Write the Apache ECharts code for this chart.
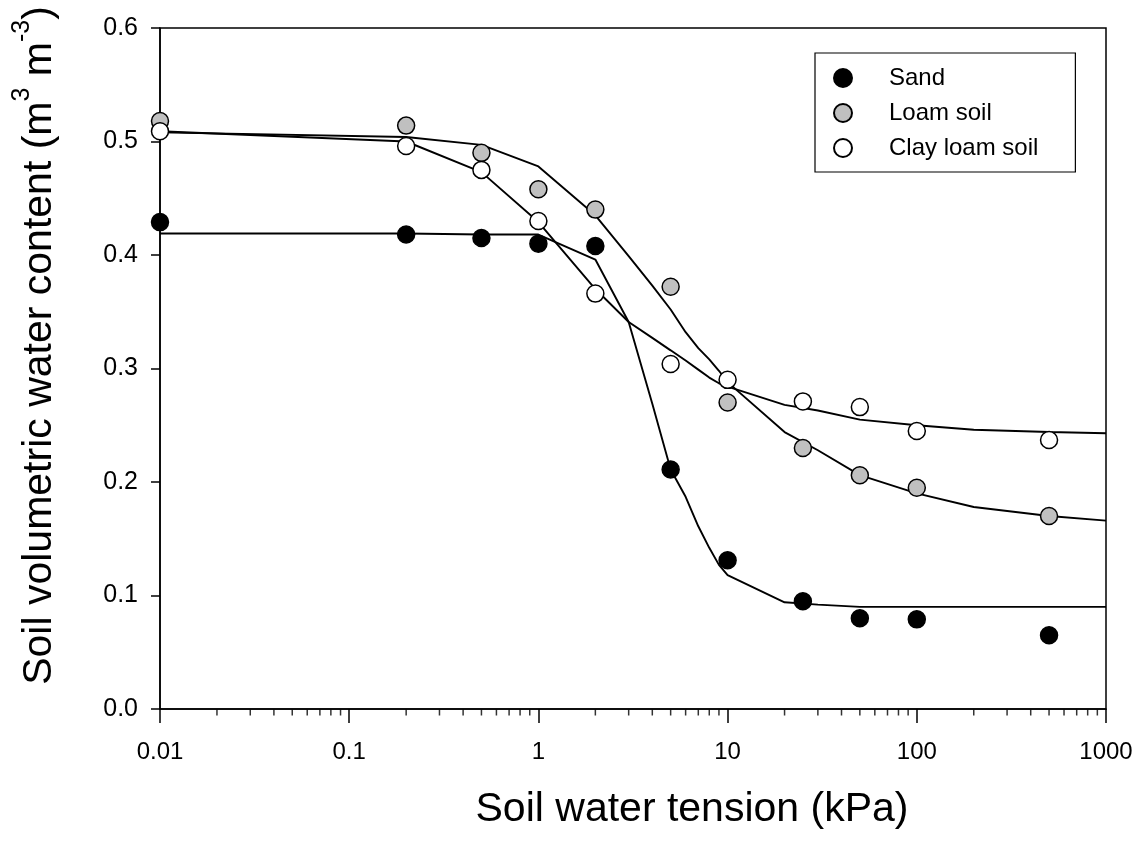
<!DOCTYPE html>
<html>
<head>
<meta charset="utf-8">
<script src="https://cdn.jsdelivr.net/npm/echarts@6/dist/echarts.min.js"></script>
<style>
html,body{margin:0;padding:0;background:#fff;}
#chart{width:1147px;height:843px;}
</style>
</head>
<body>
<div id="chart"></div>
<script>
// ---- data ----
const tension = [0.01, 0.2, 0.5, 1, 2, 5, 10, 25, 50, 100, 500];
const sand = [0.429, 0.418, 0.415, 0.410, 0.408, 0.211, 0.131, 0.095, 0.080, 0.079, 0.065];
const loam = [0.518, 0.514, 0.490, 0.458, 0.440, 0.372, 0.270, 0.230, 0.206, 0.195, 0.170];
const clayLoam = [0.509, 0.496, 0.475, 0.430, 0.366, 0.304, 0.290, 0.271, 0.266, 0.245, 0.237];

const fitTension = [0.01, 0.2, 0.5, 1, 2, 3, 4, 5, 6, 7, 8, 9, 10, 20, 30, 50, 100, 200, 500, 1000];
const sandFit = [0.419, 0.419, 0.418, 0.418, 0.396, 0.341, 0.269, 0.211, 0.187, 0.161, 0.142, 0.127, 0.118, 0.094, 0.092, 0.090, 0.090, 0.090, 0.090, 0.090];
const loamFit = [0.508, 0.504, 0.497, 0.478, 0.435, 0.399, 0.373, 0.352, 0.332, 0.318, 0.308, 0.298, 0.288, 0.244, 0.228, 0.206, 0.190, 0.178, 0.170, 0.166];
const clayLoamFit = [0.509, 0.500, 0.473, 0.429, 0.370, 0.341, 0.327, 0.316, 0.307, 0.299, 0.292, 0.287, 0.284, 0.268, 0.263, 0.255, 0.250, 0.246, 0.244, 0.243];

const xTickLabels = ['0.01', '0.1', '1', '10', '100', '1000'];
const minorTickValues = [
  0.02,0.03,0.04,0.05,0.06,0.07,0.08,0.09,
  0.2,0.3,0.4,0.5,0.6,0.7,0.8,0.9,
  2,3,4,5,6,7,8,9,
  20,30,40,50,60,70,80,90,
  200,300,400,500,600,700,800,900
];

const FONT = '"Liberation Sans", Arial, Helvetica, sans-serif';
const pair = (xs, ys) => xs.map((x, i) => [x, ys[i]]);

const chart = echarts.init(document.getElementById('chart'), null, {renderer: 'canvas'});

const option = {
  backgroundColor: '#ffffff',
  animation: false,
  grid: {
    left: 160, right: 41, top: 28, bottom: 134,
    show: true, borderColor: '#000', borderWidth: 1.5, backgroundColor: 'transparent'
  },
  legend: {
    data: ['Sand', 'Loam soil', 'Clay loam soil'],
    orient: 'vertical',
    left: 815, top: 53,
    padding: [13, 37, 12, 18],
    itemWidth: 18, itemHeight: 18,
    itemGap: 11,
    borderColor: '#000', borderWidth: 1.2,
    backgroundColor: '#fff',
    textStyle: {
      fontFamily: FONT, fontSize: 24, color: '#000',
      lineHeight: 20, padding: [0, 0, 0, 32]
    }
  },
  xAxis: {
    type: 'log',
    logBase: 10,
    min: 0.01, max: 1000,
    name: 'Soil water tension (kPa)',
    nameLocation: 'middle',
    nameGap: 80,
    nameTextStyle: {fontFamily: FONT, fontSize: 41, color: '#000', padding: [0, 0, 0, 118]},
    axisLine: {show: true, onZero: false, lineStyle: {color: '#000', width: 1.5}},
    axisTick: {show: true, inside: false, length: 14, lineStyle: {color: '#000', width: 1.5}},
    minorTick: {show: false},
    splitLine: {show: false},
    axisLabel: {
      fontFamily: FONT, fontSize: 24, color: '#000', margin: 31,
      formatter: function (v) {
        const k = Math.round(Math.log10(v)) + 2;
        return xTickLabels[k] !== undefined ? xTickLabels[k] : '';
      }
    }
  },
  yAxis: {
    type: 'value',
    min: 0, max: 0.6, interval: 0.1,
    name: '{a|Soil volumetric water content (m}{s|3}{a| m}{s|-3}{a|)}',
    nameLocation: 'middle',
    nameGap: 100,
    nameRotate: 90,
    nameTextStyle: {
      fontFamily: FONT, color: '#000',
      padding: [0, 0, 0, 46],
      rich: {
        a: {fontFamily: FONT, fontSize: 41, color: '#000', verticalAlign: 'bottom', lineHeight: 50},
        s: {fontFamily: FONT, fontSize: 25, color: '#000', verticalAlign: 'top', lineHeight: 50}
      }
    },
    axisLine: {show: true, onZero: false, lineStyle: {color: '#000', width: 1.5}},
    axisTick: {show: true, inside: false, length: 9, lineStyle: {color: '#000', width: 1.5}},
    splitLine: {show: false},
    axisLabel: {
      fontFamily: FONT, fontSize: 25, color: '#000', margin: 22,
      formatter: v => v.toFixed(1)
    }
  },
  series: [
    {
      name: 'Sand fit', type: 'line', data: pair(fitTension, sandFit),
      showSymbol: false, symbol: 'none', smooth: false, silent: true,
      lineStyle: {color: '#000', width: 1.9}, z: 2
    },
    {
      name: 'Loam fit', type: 'line', data: pair(fitTension, loamFit),
      showSymbol: false, symbol: 'none', smooth: false, silent: true,
      lineStyle: {color: '#000', width: 1.9}, z: 2
    },
    {
      name: 'Clay loam fit', type: 'line', data: pair(fitTension, clayLoamFit),
      showSymbol: false, symbol: 'none', smooth: false, silent: true,
      lineStyle: {color: '#000', width: 1.9}, z: 2
    },
    {
      name: 'Sand', type: 'scatter', data: pair(tension, sand),
      symbol: 'circle', symbolSize: 17, clip: false,
      itemStyle: {color: '#000', borderColor: '#000', borderWidth: 1.5, opacity: 1}, z: 3
    },
    {
      name: 'Loam soil', type: 'scatter', data: pair(tension, loam),
      symbol: 'circle', symbolSize: 17, clip: false,
      itemStyle: {color: '#c0c0c0', borderColor: '#000', borderWidth: 1.5, opacity: 1}, z: 3
    },
    {
      name: 'Clay loam soil', type: 'scatter', data: pair(tension, clayLoam),
      symbol: 'circle', symbolSize: 17, clip: false,
      itemStyle: {color: '#fff', borderColor: '#000', borderWidth: 1.5, opacity: 1}, z: 3
    },
    {
      name: 'minor ticks', type: 'scatter',
      data: minorTickValues.map(v => [v, 0]),
      symbol: 'rect', symbolSize: [1.5, 6], symbolOffset: [0, 3.5],
      clip: false, silent: true,
      itemStyle: {color: '#000'}, z: 1
    }
  ]
};
chart.setOption(option);
</script>
</body>
</html>
